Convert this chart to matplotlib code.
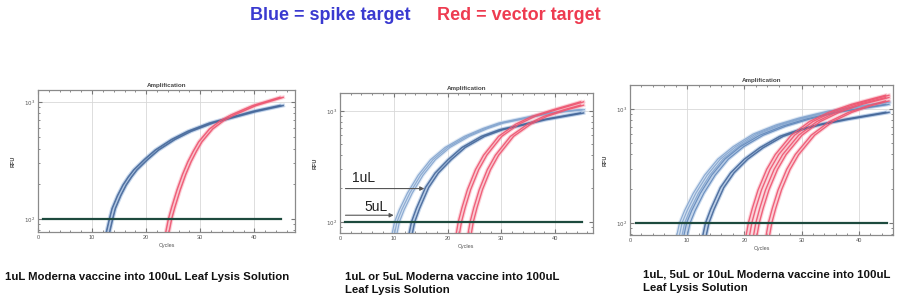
import numpy as np
import matplotlib.pyplot as plt
from matplotlib.ticker import FixedLocator, MultipleLocator, NullFormatter

# ---------------- data (cycles, log10 RFU) -------------
# panel 1 : 1uL
p1_blue_cyc = [12.5, 13.5, 14.0, 15.0, 16.0, 17.0, 18.0, 20.0, 22.0, 25.0, 28.0, 32.0, 36.0, 40.0, 45.0]
p1_blue_log = [1.80, 2.00, 2.09, 2.20, 2.29, 2.36, 2.42, 2.51, 2.59, 2.68, 2.75, 2.82, 2.87, 2.92, 2.97]
p1_red_cyc = [23.8, 24.4, 25.0, 26.0, 27.0, 28.0, 29.0, 30.0, 32.0, 34.0, 36.0, 40.0, 45.0]
p1_red_log = [1.86, 2.00, 2.10, 2.25, 2.38, 2.49, 2.58, 2.66, 2.77, 2.84, 2.89, 2.97, 3.04]

# panel 2 : 1uL or 5uL
p2_b5_cyc = [10.0, 10.6, 11.5, 13.0, 15.0, 17.3, 20.0, 23.6, 27.0, 30.0, 35.0, 39.0, 45.0]
p2_b5_log = [1.86, 2.00, 2.11, 2.26, 2.42, 2.56, 2.67, 2.77, 2.84, 2.89, 2.94, 2.98, 3.01]
p2_b1_cyc = [13.0, 13.6, 14.5, 16.2, 18.0, 20.4, 23.0, 26.6, 30.0, 32.8, 38.0, 45.0]
p2_b1_log = [1.86, 2.00, 2.12, 2.31, 2.44, 2.56, 2.67, 2.77, 2.83, 2.86, 2.92, 2.98]
p2_r5_cyc = [21.8, 22.3, 23.0, 24.0, 25.5, 27.0, 29.8, 33.0, 36.0, 40.0, 45.0]
p2_r5_log = [1.86, 2.00, 2.13, 2.29, 2.47, 2.60, 2.77, 2.88, 2.95, 3.01, 3.08]
p2_r1_cyc = [24.0, 24.5, 25.2, 26.2, 27.7, 29.2, 32.0, 35.2, 38.2, 42.0, 45.0]
p2_r1_log = [1.86, 2.00, 2.13, 2.29, 2.47, 2.60, 2.77, 2.88, 2.95, 3.01, 3.05]

# panel 3 : 1uL, 5uL or 10uL
p3_b10_cyc = [8.5, 9.1, 10.0, 11.5, 13.5, 15.8, 18.5, 22.0, 26.0, 30.0, 35.0, 40.0, 45.0]
p3_b10_log = [1.86, 2.00, 2.11, 2.26, 2.42, 2.56, 2.67, 2.78, 2.86, 2.92, 2.98, 3.02, 3.06]
p3_b5_cyc = [9.6, 10.2, 11.1, 12.6, 14.6, 16.9, 19.6, 23.0, 27.0, 31.0, 36.0, 45.0]
p3_b5_log = [1.86, 2.00, 2.11, 2.26, 2.42, 2.56, 2.67, 2.77, 2.85, 2.91, 2.97, 3.04]
p3_b1_cyc = [12.9, 13.5, 14.4, 16.1, 17.9, 20.3, 23.0, 26.5, 30.0, 33.0, 38.0, 45.0]
p3_b1_log = [1.86, 2.00, 2.12, 2.31, 2.44, 2.56, 2.66, 2.76, 2.82, 2.86, 2.91, 2.97]
p3_r10_cyc = [20.5, 21.0, 21.7, 22.7, 24.2, 25.7, 28.5, 31.7, 35.0, 39.0, 45.0]
p3_r10_log = [1.86, 2.00, 2.13, 2.29, 2.47, 2.60, 2.77, 2.89, 2.97, 3.04, 3.12]
p3_r5_cyc = [21.8, 22.3, 23.0, 24.0, 25.5, 27.0, 29.8, 33.0, 36.3, 40.3, 45.0]
p3_r5_log = [1.86, 2.00, 2.13, 2.29, 2.47, 2.60, 2.77, 2.89, 2.97, 3.04, 3.10]
p3_r1_cyc = [24.0, 24.5, 25.2, 26.2, 27.7, 29.2, 32.0, 35.2, 38.5, 42.0, 45.0]
p3_r1_log = [1.86, 2.00, 2.13, 2.29, 2.47, 2.60, 2.77, 2.89, 2.97, 3.03, 3.07]

# replicate wells: small cycle offsets around each group
rep_three = [-0.45, 0.0, 0.45]
rep_two = [-0.3, 0.3]

threshold = 100
captions = ["1uL Moderna vaccine into 100uL Leaf Lysis Solution",
            "1uL or 5uL Moderna vaccine into 100uL\nLeaf Lysis Solution",
            "1uL, 5uL or 10uL Moderna vaccine into 100uL\nLeaf Lysis Solution"]

BLUE_D = "#46689a"
BLUE_L = "#9dbadf"
RED = "#ee5570"
RED_L = "#f8b0bc"
THR = "#1d4a3e"

plt.rcParams['font.family'] = ['Liberation Sans', 'DejaVu Sans']

fig = plt.figure(figsize=(8.98, 3.0), dpi=100)

boxes = [[0.0423, 0.2267, 0.2862, 0.4733],
         [0.3786, 0.2233, 0.2814, 0.4667],
         [0.7016, 0.2167, 0.2928, 0.5000]]
xmaxes = [47.5, 47.0, 46.0]
ylims = [(10**1.889, 10**3.103), (10**1.90, 10**3.16), (10**1.895, 10**3.21)]


def draw(ax, cyc, logv, reps, col, lw=1.1, halo=None):
    cyc = np.array(cyc)
    vals = 10 ** np.array(logv)
    for r in reps:
        if halo:
            ax.plot(cyc + r, vals, color=halo, lw=lw + 1.6, alpha=0.55, zorder=2)
        ax.plot(cyc + r, vals, color=col, lw=lw, alpha=0.9, zorder=3)


axes = []
for i, b in enumerate(boxes):
    ax = fig.add_axes(b)
    ax.set_yscale('log')
    ax.set_xlim(0, xmaxes[i])
    ax.set_ylim(*ylims[i])
    ax.xaxis.set_major_locator(FixedLocator([0, 10, 20, 30, 40]))
    ax.xaxis.set_minor_locator(MultipleLocator(2))
    ax.yaxis.set_major_locator(FixedLocator([100, 1000]))
    ax.yaxis.set_minor_formatter(NullFormatter())
    ax.set_yticklabels([r'$10^2$', r'$10^3$'])
    ax.tick_params(which='both', direction='in', top=True, right=True,
                   labelsize=4, color='#777777', labelcolor='#555555', pad=2)
    ax.tick_params(which='major', length=3)
    ax.tick_params(which='minor', length=1.5)
    for s in ax.spines.values():
        s.set_color('#8a8a8a')
        s.set_linewidth(0.9)
    for xv in [10, 20, 30, 40]:
        ax.axvline(xv, color='#d8d8d8', lw=0.6, zorder=1)
    ax.axhline(1000, color='#d8d8d8', lw=0.6, zorder=1)
    ax.plot([1, 45], [threshold, threshold], color=THR, lw=1.6, zorder=4)
    ax.set_title("Amplification", fontsize=4.5, fontweight='bold', color='#444444', pad=2)
    ax.set_xlabel("Cycles", fontsize=4, color='#555555', labelpad=2)
    ax.set_ylabel("RFU", fontsize=4, fontweight='bold', color='#444444', labelpad=6)
    axes.append(ax)

ax1, ax2, ax3 = axes

draw(ax1, p1_blue_cyc, p1_blue_log, rep_two, BLUE_D, lw=1.2, halo=BLUE_L)
draw(ax1, p1_red_cyc, p1_red_log, rep_two, RED, lw=1.1, halo=RED_L)

draw(ax2, p2_b5_cyc, p2_b5_log, rep_three, "#84a5cf", lw=0.9, halo="#c9daee")
draw(ax2, p2_b1_cyc, p2_b1_log, rep_two, BLUE_D, lw=1.1, halo=BLUE_L)
draw(ax2, p2_r5_cyc, p2_r5_log, rep_two, RED, lw=1.0, halo=RED_L)
draw(ax2, p2_r1_cyc, p2_r1_log, rep_two, RED, lw=1.0, halo=RED_L)

draw(ax3, p3_b10_cyc, p3_b10_log, rep_three, "#84a5cf", lw=0.9, halo="#c9daee")
draw(ax3, p3_b5_cyc, p3_b5_log, rep_two, "#6389bb", lw=0.9, halo=BLUE_L)
draw(ax3, p3_b1_cyc, p3_b1_log, rep_two, BLUE_D, lw=1.1, halo=BLUE_L)
draw(ax3, p3_r10_cyc, p3_r10_log, rep_two, RED, lw=1.0, halo=RED_L)
draw(ax3, p3_r5_cyc, p3_r5_log, rep_two, RED, lw=1.0, halo=RED_L)
draw(ax3, p3_r1_cyc, p3_r1_log, rep_two, RED, lw=1.0, halo=RED_L)

# annotations in panel 2
ax2.annotate("", xy=(16.2, 10**2.30), xytext=(0.5, 10**2.30),
             arrowprops=dict(arrowstyle='-|>', color='#555555', lw=0.8, mutation_scale=6))
ax2.text(2.3, 10**2.36, "1uL", fontsize=10, color='#222222')
ax2.annotate("", xy=(10.5, 10**2.06), xytext=(0.5, 10**2.06),
             arrowprops=dict(arrowstyle='-|>', color='#555555', lw=0.8, mutation_scale=6))
ax2.text(4.5, 10**2.10, "5uL", fontsize=10, color='#222222')

# captions
fig.text(0.006, 0.077, captions[0], fontsize=8.2, fontweight='bold', color='#111111', va='center')
fig.text(0.384, 0.092, captions[1], fontsize=8.2, fontweight='bold', color='#111111',
         va='top', linespacing=1.3)
fig.text(0.716, 0.103, captions[2], fontsize=8.2, fontweight='bold', color='#111111',
         va='top', linespacing=1.45)

# header
fig.text(0.2785, 0.948, "Blue = spike target", fontsize=13, fontweight='bold',
         color='#3a3ad0', va='center')
fig.text(0.4866, 0.948, "Red = vector target", fontsize=13, fontweight='bold',
         color='#ee3b50', va='center')

fig.savefig("out.png", dpi=100)
